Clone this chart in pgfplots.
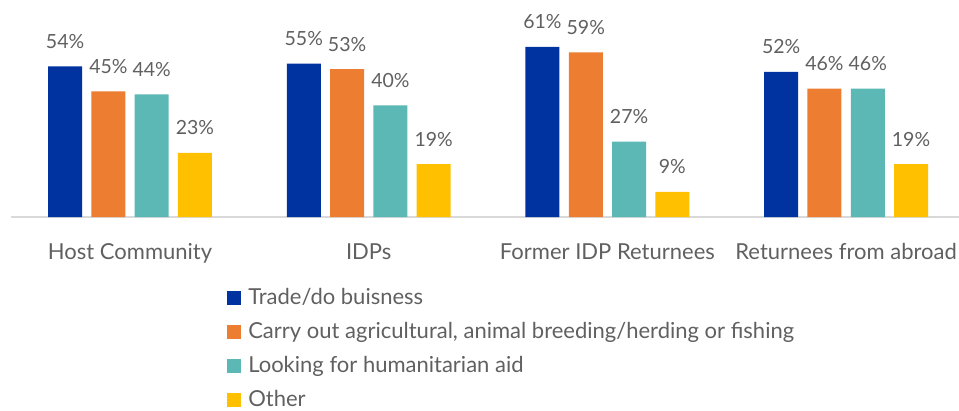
\documentclass[border=0pt]{standalone}
\usepackage{fontspec}
\setmainfont{Lato}
\usepackage{pgfplots}
\pgfplotsset{compat=1.18}

\definecolor{cblue}{HTML}{0033A0}
\definecolor{corange}{HTML}{ED7D31}
\definecolor{cteal}{HTML}{5BB8B4}
\definecolor{cyellow}{HTML}{FFC000}
\definecolor{txt}{HTML}{606060}
\definecolor{axline}{HTML}{D9D9D9}

\begin{document}
\begin{tikzpicture}
\useasboundingbox (0,0) rectangle (959pt,410pt);
\begin{axis}[
  at={(10.7pt,193pt)}, anchor=south west,
  scale only axis,
  width=948.3pt, height=217pt,
  xmin=-0.5, xmax=3.473,
  ymin=0, ymax=77.8,
  ybar=9.3pt, bar width=34pt,
  axis y line=none,
  axis x line*=bottom,
  x axis line style={axline, line width=1.5pt, -},
  xtick=data,
  xticklabels={Host Community, IDPs, Former IDP Returnees, Returnees from abroad},
  major tick length=0pt,
  xticklabel style={font=\fontsize{22}{26}\selectfont, text=txt, anchor=base, yshift=-42pt},
  /pgf/number format/assume math mode=true,
  nodes near coords={\pgfmathprintnumber{\pgfplotspointmeta}\%},
  nodes near coords style={font=\fontsize{19.5}{23}\selectfont, text=txt, anchor=base, yshift=18pt},
  every axis plot/.append style={draw=none},
  clip=false,
  legend cell align=left,
  legend image code/.code={\fill[#1] (0pt,-4pt) rectangle (14pt,10pt);},
  legend style={
    at={(0.225,-0.30)}, anchor=north west,
    draw=none, fill=none,
    font=\fontsize{22}{26}\selectfont, text=txt,
    nodes={inner sep=0pt, text height=20pt, text depth=14pt},
    /tikz/every odd column/.style={column sep=7pt},
  },
]
\addplot[fill=cblue] coordinates {(0,54) (1,55) (2,61) (3,52)};
\addplot[fill=corange] coordinates {(0,45) (1,53) (2,59) (3,46)};
\addplot[fill=cteal] coordinates {(0,44) (1,40) (2,27) (3,46)};
\addplot[fill=cyellow] coordinates {(0,23) (1,19) (2,9) (3,19)};
\legend{Trade/do buisness, {Carry out agricultural, animal breeding/herding or fishing}, Looking for humanitarian aid, Other}
\end{axis}
\end{tikzpicture}
\end{document}
